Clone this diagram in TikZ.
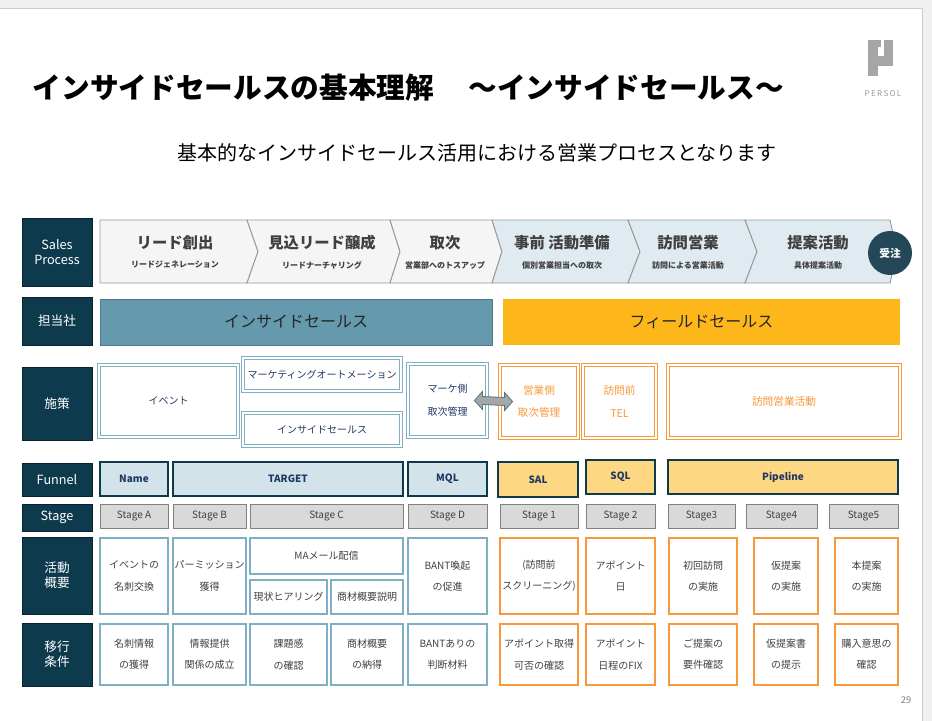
\documentclass[tikz,border=0pt]{standalone}
\usepackage{fontspec}
\setmainfont{Noto Sans CJK JP}
\usetikzlibrary{fit,calc}
\definecolor{dk}{HTML}{0E3A4E}
\definecolor{isb}{HTML}{6499AE}
\definecolor{fso}{HTML}{FDB71B}
\definecolor{bl}{HTML}{7FAFC4}
\definecolor{orr}{HTML}{F7993B}
\definecolor{txt}{HTML}{404040}
\definecolor{nav}{HTML}{1F3864}
\tikzset{
 lab/.style={fill=dk,draw=dk!60!black,text=white,font=\fontsize{9.5}{11}\selectfont,align=center},
 bbox/.style={draw=bl,line width=0.9pt,fill=white,text=txt,font=\fontsize{7.5}{16}\selectfont,align=center},
 obox/.style={draw=orr,line width=0.9pt,fill=white,text=txt,font=\fontsize{7.5}{16}\selectfont,align=center},
 dbb/.style={draw=bl,double=white,double distance=1.6pt,line width=0.6pt,fill=white,text=nav,font=\fontsize{7.5}{17}\selectfont,align=center},
 dbo/.style={draw=orr,double=white,double distance=1.6pt,line width=0.6pt,fill=white,text=orr,font=\fontsize{8}{17}\selectfont,align=center},
 fb/.style={draw=dk,line width=0.9pt,fill=#1,text=nav,font=\bfseries\fontsize{7.5}{10}\selectfont},
 sg/.style={draw=gray,line width=0.7pt,fill=gray!30,text=txt,font=\fontsize{7.5}{10}\selectfont},
 chev/.style={draw=gray!80,line width=0.7pt,fill=#1},
}
\newcommand\B[7]{\node[#2,fit={(#3,#4)(#5,#6)},inner sep=0pt] (#1) {};
 \node[#2,draw=none,fill=none,inner sep=0pt] at (#1.center) {#7};}
\begin{document}
\begin{tikzpicture}[x=0.75pt,y=-0.75pt]
\useasboundingbox (0,0) rectangle (932,721);
\fill[gray!12] (0,0) rectangle (932,721);
\fill[white] (0,8) rectangle (922,721);
\draw[gray!40] (0,8) -- (922,8) -- (922,721);
% title
\node[anchor=west,font=\bfseries\fontsize{21.5}{24}\selectfont] (title) at (28,88) {インサイドセールスの基本理解\hspace{1.2em}～インサイドセールス～};
\node[font=\fontsize{15}{18}\selectfont] (sub) at (477,153) {基本的なインサイドセールス活用における営業プロセスとなります};
% logo
\fill[gray!70] (868,40) rectangle (878,76);
\fill[gray!70] (868,40) rectangle (881,47);
\fill[gray!70] (884,40) rectangle (893,66);
\fill[gray!70] (878,56) rectangle (893,66);
\node[text=gray!80,font=\fontsize{6}{7}\selectfont] (logo) at (883,94) {P\,E\,R\,S\,O\,L};
% left labels
\B{l1}{lab}{22}{218}{92}{286}{Sales\\Process}
\B{l2}{lab}{22}{297}{92}{345}{担当社}
\B{l3}{lab}{22}{367}{92}{440}{施策}
\B{l4}{lab}{22}{463}{92}{496}{Funnel}
\B{l5}{lab}{22}{504}{92}{531}{Stage}
\B{l6}{lab}{22}{537}{92}{614}{活動\\概要}
\B{l7}{lab}{22}{623}{92}{686}{移行\\条件}
% chevrons
\draw[chev=gray!8] (100,220) -- (247,220) -- (258,251.5) -- (247,283) -- (100,283) -- cycle;
\draw[chev=gray!8] (247,220) -- (390,220) -- (400,251.5) -- (390,283) -- (247,283) -- (258,251.5) -- cycle;
\draw[chev=gray!8] (390,220) -- (492,220) -- (502,251.5) -- (492,283) -- (390,283) -- (400,251.5) -- cycle;
\draw[chev=bl!25] (492,220) -- (628,220) -- (640,251.5) -- (628,283) -- (492,283) -- (502,251.5) -- cycle;
\draw[chev=bl!25] (628,220) -- (745,220) -- (757,251.5) -- (745,283) -- (628,283) -- (640,251.5) -- cycle;
\draw[chev=bl!25] (745,220) -- (890,220) -- (897,251.5) -- (890,283) -- (745,283) -- (757,251.5) -- cycle;
\foreach \x/\a/\b [count=\i] in {175/リード創出/リードジェネレーション,322/見込リード醸成/リードナーチャリング,445/取次/営業部へのトスアップ,562/事前 活動準備/個別営業担当への取次,688/訪問営業/訪問による営業活動,818/提案活動/具体提案活動}{
 \node[text=txt,font=\bfseries\fontsize{11.5}{13}\selectfont] (ph\i) at (\x,243) {\a};
 \node[text=txt,font=\bfseries\fontsize{6}{7}\selectfont] (ps\i) at (\x,265) {\b};
}
\node[circle,fill=dk!80!gray,minimum size=33pt,inner sep=0,text=white,font=\bfseries\fontsize{8}{9}\selectfont] (ju) at (890,253) {受注};
% tanto
\B{is}{fill=isb,draw=isb!80!black,line width=0.3pt,font=\fontsize{12}{14}\selectfont,text=black!85}{100}{299}{492}{345}{インサイドセールス}
\B{fs}{fill=fso,font=\fontsize{12}{14}\selectfont,text=black!85}{503}{299}{900}{345}{フィールドセールス}
% shisaku
\B{s1}{dbb}{99}{365}{238}{437}{イベント}
\B{s2}{dbb}{243}{358}{401}{391}{マーケティングオートメーション}
\B{s3}{dbb}{243}{413}{401}{446}{インサイドセールス}
\B{s4}{dbb}{408}{364}{487}{437}{マーケ側\\取次管理}
\B{s5}{dbo}{500}{365}{578}{438}{営業側\\取次管理}
\B{s6}{dbo}{583}{365}{656}{438}{訪問前\\TEL}
\B{s7}{dbo}{668}{365}{900}{438}{訪問営業活動}
\draw[fill=gray!70,draw=dk!70,line width=0.6pt]
 ($(s4.east)+(-13,0)$) -- ++(8,-9) -- ++(0,5) -- ($(s5.west)+(5,-4)$) -- ++(0,-5) -- ($(s5.west)+(13,0)$)
 -- ($(s5.west)+(5,9)$) -- ++(0,-5) -- ($(s4.east)+(-5,4)$) -- ++(0,5) -- cycle;
% funnel
\B{f1}{fb=bl!35}{100}{462}{168}{496}{Name}
\B{f2}{fb=bl!35}{173}{462}{403}{496}{TARGET}
\B{f3}{fb=bl!35}{408}{462}{487}{496}{MQL}
\B{f4}{fb=fso!55}{498}{462}{578}{497}{SAL}
\B{f5}{fb=fso!55}{586}{460}{655}{494}{SQL}
\B{f6}{fb=fso!55}{668}{460}{898}{494}{Pipeline}
% stage
\B{g1}{sg}{100}{504}{168}{528}{Stage A}
\B{g2}{sg}{173}{504}{246}{528}{Stage B}
\B{g3}{sg}{250}{504}{403}{528}{Stage C}
\B{g4}{sg}{408}{504}{487}{528}{Stage D}
\B{g5}{sg}{500}{504}{578}{528}{Stage 1}
\B{g6}{sg}{586}{504}{655}{528}{Stage 2}
\B{g7}{sg}{668}{504}{735}{528}{Stage3}
\B{g8}{sg}{746}{504}{817}{528}{Stage4}
\B{g9}{sg}{829}{504}{898}{528}{Stage5}
% katsudo
\B{k1}{bbox}{100}{538}{168}{614}{イベントの\\名刺交換}
\B{k2}{bbox}{173}{538}{246}{614}{パーミッション\\獲得}
\B{k3}{bbox}{250}{538}{403}{574}{MAメール配信}
\B{k3a}{bbox}{250}{580}{327}{614}{現状ヒアリング}
\B{k3b}{bbox}{331}{580}{403}{614}{商材概要説明}
\B{k4}{bbox}{408}{538}{487}{614}{BANT喚起\\の促進}
\B{k5}{obox}{500}{538}{578}{614}{(訪問前\\スクリーニング)}
\B{k6}{obox}{586}{538}{655}{614}{アポイント\\日}
\B{k7}{obox}{669}{538}{737}{614}{初回訪問\\の実施}
\B{k8}{obox}{754}{538}{818}{614}{仮提案\\の実施}
\B{k9}{obox}{835}{538}{898}{614}{本提案\\の実施}
% iko
\B{m1}{bbox}{100}{624}{168}{685}{名刺情報\\の獲得}
\B{m2}{bbox}{173}{624}{246}{685}{情報提供\\関係の成立}
\B{m3}{bbox}{250}{624}{327}{685}{課題感\\の確認}
\B{m3b}{bbox}{331}{624}{403}{685}{商材概要\\の納得}
\B{m4}{bbox}{408}{624}{487}{685}{BANTありの\\判断材料}
\B{m5}{obox}{500}{624}{578}{685}{アポイント取得\\可否の確認}
\B{m6}{obox}{586}{624}{655}{685}{アポイント\\日程のFIX}
\B{m7}{obox}{669}{624}{737}{685}{ご提案の\\要件確認}
\B{m8}{obox}{754}{624}{818}{685}{仮提案書\\の提示}
\B{m9}{obox}{835}{624}{898}{685}{購入意思の\\確認}
\node[text=gray,font=\fontsize{7}{8}\selectfont] (pg) at (906,700) {29};
\end{tikzpicture}
\end{document}
